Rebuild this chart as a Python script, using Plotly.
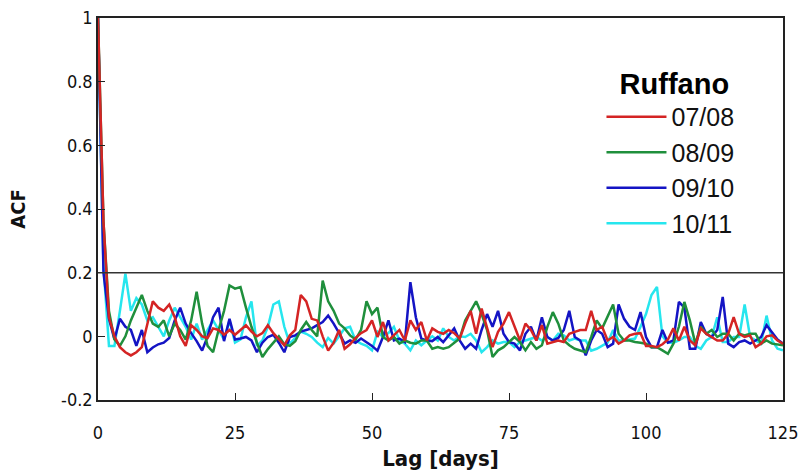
import plotly.graph_objects as go

lags = list(range(126))

acf_0708 = [1.0, 0.36, 0.06, 0.0, -0.034, -0.05, -0.06, -0.05, -0.034, 0.04,
            0.11, 0.09, 0.08, 0.1, 0.06, 0.0, -0.03, 0.035, 0.02, 0.0,
            -0.005, 0.025, 0.02, 0.005, 0.02, 0.005, 0.02, 0.035, 0.015, 0.0,
            0.01, 0.035, 0.01, -0.01, -0.028, 0.003, 0.02, 0.13, 0.11, 0.055,
            0.05, 0.0, -0.045, -0.02, 0.02, -0.039, -0.025, -0.005, 0.01, 0.02,
            0.05, -0.002, 0.045, -0.013, 0.003, 0.02, -0.013, 0.05, 0.02, 0.045,
            -0.013, 0.025, 0.014, 0.008, 0.02, 0.01, -0.007, 0.04, 0.08, 0.008,
            0.087, 0.03, -0.034, 0.014, 0.04, 0.076, 0.03, -0.013, 0.04, 0.02,
            -0.013, 0.035, -0.023, -0.018, -0.013, -0.018, 0.008, 0.014, 0.02, 0.02,
            0.08, 0.02, 0.03, -0.013, -0.002, -0.023, -0.013, 0.003, 0.008, 0.01,
            -0.03, -0.03, -0.034, -0.025, -0.01, 0.025, -0.013, 0.03, -0.013, -0.028,
            0.025, 0.008, -0.002, -0.013, -0.013, 0.008, 0.06, 0.008, -0.002, 0.003,
            -0.034, -0.023, 0.0, 0.003, -0.013, -0.023]

acf_0809 = [1.0, 0.36, 0.08, -0.01, -0.03, 0.0, 0.05, 0.09, 0.13, 0.08,
            0.04, 0.03, 0.05, 0.0, 0.04, 0.02, -0.01, 0.05, 0.14, 0.04,
            -0.03, -0.05, 0.02, 0.08, 0.16, 0.15, 0.155, 0.09, 0.03, -0.02,
            -0.065, -0.04, -0.02, 0.0, -0.025, -0.03, -0.015, 0.02, 0.045, 0.02,
            0.0, 0.175, 0.11, 0.08, 0.04, 0.025, 0.003, -0.01, 0.02, 0.11,
            0.07, 0.09, -0.002, -0.013, -0.002, -0.023, -0.013, -0.02, -0.023, -0.013,
            -0.013, -0.039, -0.034, -0.039, -0.034, -0.02, -0.007, 0.05, 0.08, 0.11,
            0.07, 0.02, -0.065, -0.044, -0.034, -0.018, -0.002, -0.018, -0.044, -0.018,
            -0.039, -0.028, 0.03, 0.076, 0.04, -0.013, -0.028, -0.039, -0.044, -0.05,
            -0.002, 0.05, 0.025, 0.06, 0.1, 0.008, -0.013, -0.013, -0.018, -0.02,
            -0.023, -0.034, -0.034, -0.044, -0.055, -0.023, 0.03, 0.108, 0.05, -0.023,
            0.03, 0.008, 0.02, -0.002, 0.008, 0.008, -0.013, 0.008, 0.003, 0.008,
            0.008, -0.023, -0.013, -0.023, -0.025, -0.028]

acf_0910 = [1.0, 0.2, 0.055, -0.01, 0.055, 0.03, 0.02, -0.03, 0.02, -0.05,
            -0.035, -0.025, -0.02, -0.005, 0.05, 0.09, 0.04, 0.01, -0.015, -0.045,
            0.0, 0.06, 0.09, -0.015, 0.055, -0.01, -0.007, -0.002, -0.013, -0.05,
            -0.02, -0.002, 0.005, -0.02, -0.05, -0.002, 0.003, 0.015, 0.02, 0.025,
            0.035, 0.045, 0.065, 0.04, 0.01, -0.023, -0.013, -0.02, -0.007, -0.018,
            -0.03, -0.045, -0.002, 0.05, -0.013, -0.007, -0.018, 0.17, 0.06, -0.007,
            -0.013, -0.015, -0.002, -0.018, 0.003, 0.025, -0.013, -0.039, -0.023, -0.039,
            0.02, 0.07, 0.03, 0.08, 0.008, -0.018, -0.023, -0.044, 0.008, 0.03,
            -0.013, 0.06, -0.002, -0.013, -0.005, 0.02, 0.08, -0.002, -0.013, -0.06,
            -0.013, 0.02, 0.008, -0.034, -0.023, 0.1, 0.055, 0.03, 0.02, 0.076,
            -0.002, -0.034, -0.034, 0.02, -0.02, -0.013, 0.108, 0.09, -0.039, -0.039,
            0.045, 0.008, -0.002, 0.02, 0.124, -0.023, -0.034, -0.018, -0.013, -0.023,
            -0.013, -0.002, 0.035, 0.014, -0.01, -0.023]

acf_1011 = [1.0, 0.22, -0.03, -0.03, 0.08, 0.197, 0.08, 0.12, 0.1, 0.05,
            0.06, 0.03, 0.0, 0.05, 0.09, 0.06, 0.03, -0.01, 0.04, -0.01,
            0.02, 0.05, 0.02, -0.01, 0.05, -0.02, -0.01, 0.06, 0.11, -0.03,
            -0.013, 0.03, 0.1, 0.11, 0.03, -0.023, -0.005, 0.015, 0.008, -0.002,
            -0.02, -0.034, -0.005, -0.023, 0.0, 0.025, 0.03, -0.013, -0.023, -0.03,
            -0.044, 0.014, -0.002, 0.01, 0.03, -0.013, -0.023, -0.044, -0.013, -0.028,
            -0.013, 0.0, -0.013, 0.025, -0.002, -0.013, 0.0, -0.002, 0.008, -0.013,
            -0.05, -0.034, -0.013, -0.023, -0.018, -0.018, -0.034, -0.018, -0.013, -0.008,
            -0.002, -0.013, -0.002, -0.013, 0.008, 0.003, -0.013, -0.007, -0.013, -0.013,
            -0.045, -0.039, -0.03, -0.02, 0.02, -0.013, -0.013, -0.01, -0.007, 0.03,
            0.07, 0.13, 0.155, 0.0, -0.02, -0.02, -0.013, -0.002, -0.002, -0.03,
            -0.039, -0.013, -0.002, 0.06, -0.018, -0.018, -0.002, -0.002, 0.1, -0.002,
            -0.013, -0.023, 0.065, -0.013, -0.039, -0.044]

series_names = ["07/08", "08/09", "09/10", "10/11"]
series_values = [acf_0708, acf_0809, acf_0910, acf_1011]
series_colors = ["#d42424", "#1f8f3c", "#1414c4", "#26e6ee"]

x_tickvals = [0, 25, 50, 75, 100, 125]
y_tickvals = [-0.2, 0, 0.2, 0.4, 0.6, 0.8, 1]
y_ticktext = ["-0.2", "0", "0.2", "0.4", "0.6", "0.8", "1"]
threshold = 0.2

narrow = "Liberation Sans Narrow, Arial Narrow, DejaVu Sans Condensed, Liberation Sans, sans-serif"
regular = "Liberation Sans, Arial, sans-serif"

fig = go.Figure()
entries = list(enumerate(zip(series_names, series_values, series_colors)))
# draw in reverse so red ends on top; legend order kept via legendrank
for rank, (name, vals, col) in reversed(entries):
    fig.add_trace(go.Scatter(x=lags, y=vals, mode="lines", name=name,
                             legendrank=rank + 1,
                             line=dict(color=col, width=2.5)))

fig.add_shape(type="line", xref="paper", yref="y", x0=0, x1=1,
              y0=threshold, y1=threshold, line=dict(color="#333333", width=1.5))

fig.update_layout(
    width=801, height=476,
    margin=dict(l=98, r=18, t=18, b=76),
    plot_bgcolor="white", paper_bgcolor="white",
    showlegend=True,
    legend=dict(
        x=0.735, y=0.90, xanchor="left", yanchor="top",
        traceorder="normal",
        bgcolor="rgba(0,0,0,0)",
        font=dict(family=regular, size=25, color="#111"),
        title=dict(text="\u00a0\u00a0<b>Ruffano</b>", side="top",
                   font=dict(family=regular, size=29, color="#000")),
        itemwidth=60,
    ),
    xaxis=dict(range=[0, 125], tickvals=x_tickvals, ticks="inside", ticklen=7,
               tickcolor="#222", showline=True, linecolor="#222", linewidth=1.5,
               mirror=True, showgrid=False, zeroline=False, automargin=False,
               ticklabelstandoff=16,
               tickfont=dict(family=narrow, size=18, color="#111"),
               title=dict(text="<b>Lag [days]</b>", standoff=8,
                          font=dict(family=narrow, size=22, color="#111"))),
    yaxis=dict(range=[-0.2, 1], tickvals=y_tickvals, ticktext=y_ticktext,
               ticks="inside", ticklen=7, tickcolor="#222",
               showline=True, linecolor="#222", linewidth=1.5, mirror=True,
               showgrid=False, zeroline=False, automargin=False,
               tickfont=dict(family=narrow, size=18, color="#111"),
               title=dict(text="<b>ACF</b>", standoff=30,
                          font=dict(family=narrow, size=20, color="#111"))),
)

fig.write_html("out.html")
